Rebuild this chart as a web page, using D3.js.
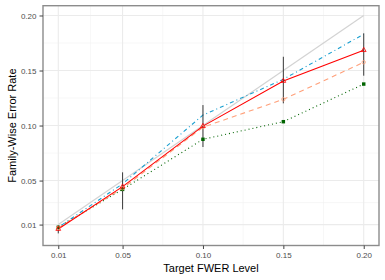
<!DOCTYPE html>
<html lang="en">
<head>
	<meta charset="UTF-8">
	<script src="https://cdn.jsdelivr.net/npm/d3@7/dist/d3.min.js"></script>
	<title>FWER</title>
	<style>
		body { margin: 0; background: #fff; }
		text { font-family: "Liberation Sans", Arial, sans-serif; }
	</style>
</head>
<body>
<div id="chart"></div>
<script>
	let levels = [0.01, 0.05, 0.10, 0.15, 0.20]
	let yTicks = [0.01, 0.05, 0.10, 0.15, 0.20]
	let minorTicks = [0.03, 0.075, 0.125, 0.175]

	// series
	let redVals = [0.0060, 0.0445, 0.0995, 0.1405, 0.1685]
	let blueVals = [0.0075, 0.0470, 0.1095, 0.1420, 0.1830]
	let orangeVals = [0.0070, 0.0430, 0.0985, 0.1238, 0.1575]
	let greenVals = [0.0075, 0.0420, 0.0875, 0.1035, 0.1377]
	// error bars (vertical ranges)
	let errLow = [0.0020, 0.0238, 0.0805, 0.1202, 0.1453]
	let errHigh = [0.0095, 0.0575, 0.1186, 0.1625, 0.1838]

	let width = 385, height = 280
	let pLeft = 43, pRight = 379, pTop = 5.7, pBottom = 245.5

	let svg = d3.select('#chart').append('svg')
		.attr('width', width)
		.attr('height', height)

	let x = d3.scaleLinear().domain([0.0005, 0.2095]).range([pLeft, pRight])
	let y = d3.scaleLinear().domain([-0.009, 0.2089]).range([pBottom, pTop])

	// grid
	let grid = svg.append('g')
	grid.selectAll('.mx').data(minorTicks).join('line')
		.attr('x1', d => x(d)).attr('x2', d => x(d))
		.attr('y1', pTop).attr('y2', pBottom)
		.attr('stroke', '#f2f2f2').attr('stroke-width', 0.6)
	grid.selectAll('.my').data(minorTicks).join('line')
		.attr('y1', d => y(d)).attr('y2', d => y(d))
		.attr('x1', pLeft).attr('x2', pRight)
		.attr('stroke', '#f2f2f2').attr('stroke-width', 0.6)
	grid.selectAll('.gx').data(levels).join('line')
		.attr('x1', d => x(d)).attr('x2', d => x(d))
		.attr('y1', pTop).attr('y2', pBottom)
		.attr('stroke', '#ebebeb').attr('stroke-width', 1.1)
	grid.selectAll('.gy').data(yTicks).join('line')
		.attr('y1', d => y(d)).attr('y2', d => y(d))
		.attr('x1', pLeft).attr('x2', pRight)
		.attr('stroke', '#ebebeb').attr('stroke-width', 1.1)

	// reference line y = x
	svg.append('line')
		.attr('x1', x(0.01)).attr('y1', y(0.01))
		.attr('x2', x(0.20)).attr('y2', y(0.20))
		.attr('stroke', '#d3d3d3').attr('stroke-width', 1.2)

	let line = d3.line().x(d => x(d[0])).y(d => y(d[1]))
	let series = [
		{ vals: greenVals, color: '#006400', dash: '1,3' },
		{ vals: orangeVals, color: '#ffa07a', dash: '5,4' },
		{ vals: blueVals, color: '#1a9fd0', dash: '1,3,4,3' },
		{ vals: redVals, color: '#ff0000', dash: null },
	]
	series.forEach(s => {
		svg.append('path')
			.attr('d', line(levels.map((l, i) => [l, s.vals[i]])))
			.attr('fill', 'none')
			.attr('stroke', s.color)
			.attr('stroke-width', 1.1)
			.attr('stroke-dasharray', s.dash)
	})

	// error bars
	svg.selectAll('.err').data(levels).join('line')
		.attr('x1', d => x(d)).attr('x2', d => x(d))
		.attr('y1', (d, i) => y(errLow[i])).attr('y2', (d, i) => y(errHigh[i]))
		.attr('stroke', '#3a3a3a').attr('stroke-width', 1)

	// markers
	let tri = d3.symbol().type(d3.symbolTriangle).size(10)
	let sq = d3.symbol().type(d3.symbolSquare).size(12)
	svg.selectAll('.pg').data(levels).join('path')
		.attr('d', sq)
		.attr('transform', (d, i) => `translate(${x(d)},${y(greenVals[i])})`)
		.attr('fill', '#006400')
	svg.selectAll('.po').data(levels).join('circle')
		.attr('cx', d => x(d)).attr('cy', (d, i) => y(orangeVals[i]))
		.attr('r', 1.7).attr('fill', 'none')
		.attr('stroke', '#ffa07a').attr('stroke-width', 0.8)
	svg.selectAll('.pr').data(levels).join('path')
		.attr('d', tri)
		.attr('transform', (d, i) => `translate(${x(d)},${y(redVals[i])})`)
		.attr('fill', 'none').attr('stroke', '#ff0000').attr('stroke-width', 0.8)

	// panel border
	svg.append('rect')
		.attr('x', pLeft).attr('y', pTop)
		.attr('width', pRight - pLeft).attr('height', pBottom - pTop)
		.attr('fill', 'none').attr('stroke', '#8c8c8c').attr('stroke-width', 1.4)

	// axes
	let xAxis = svg.append('g')
		.attr('transform', `translate(0,${pBottom})`)
		.call(d3.axisBottom(x).tickValues(levels).tickFormat(d3.format('.2f')).tickSize(3.5).tickPadding(3))
	let yAxis = svg.append('g')
		.attr('transform', `translate(${pLeft},0)`)
		.call(d3.axisLeft(y).tickValues(yTicks).tickFormat(d3.format('.2f')).tickSize(3.5).tickPadding(3))
	;[xAxis, yAxis].forEach(a => {
		a.select('.domain').remove()
		a.selectAll('.tick line').attr('stroke', '#444').attr('stroke-width', 1)
		a.selectAll('.tick text').attr('fill', '#4d4d4d')
			.style('font-size', '8px')
			.style('font-family', '"Liberation Sans", Arial, sans-serif')
	})

	svg.append('text')
		.attr('x', (pLeft + pRight) / 2).attr('y', 272)
		.attr('text-anchor', 'middle')
		.style('font-size', '11px')
		.text('Target FWER Level')
	svg.append('text')
		.attr('transform', `translate(16,${(pTop + pBottom) / 2}) rotate(-90)`)
		.attr('text-anchor', 'middle')
		.style('font-size', '11px')
		.text('Family-Wise Error Rate')
</script>
</body>
</html>
